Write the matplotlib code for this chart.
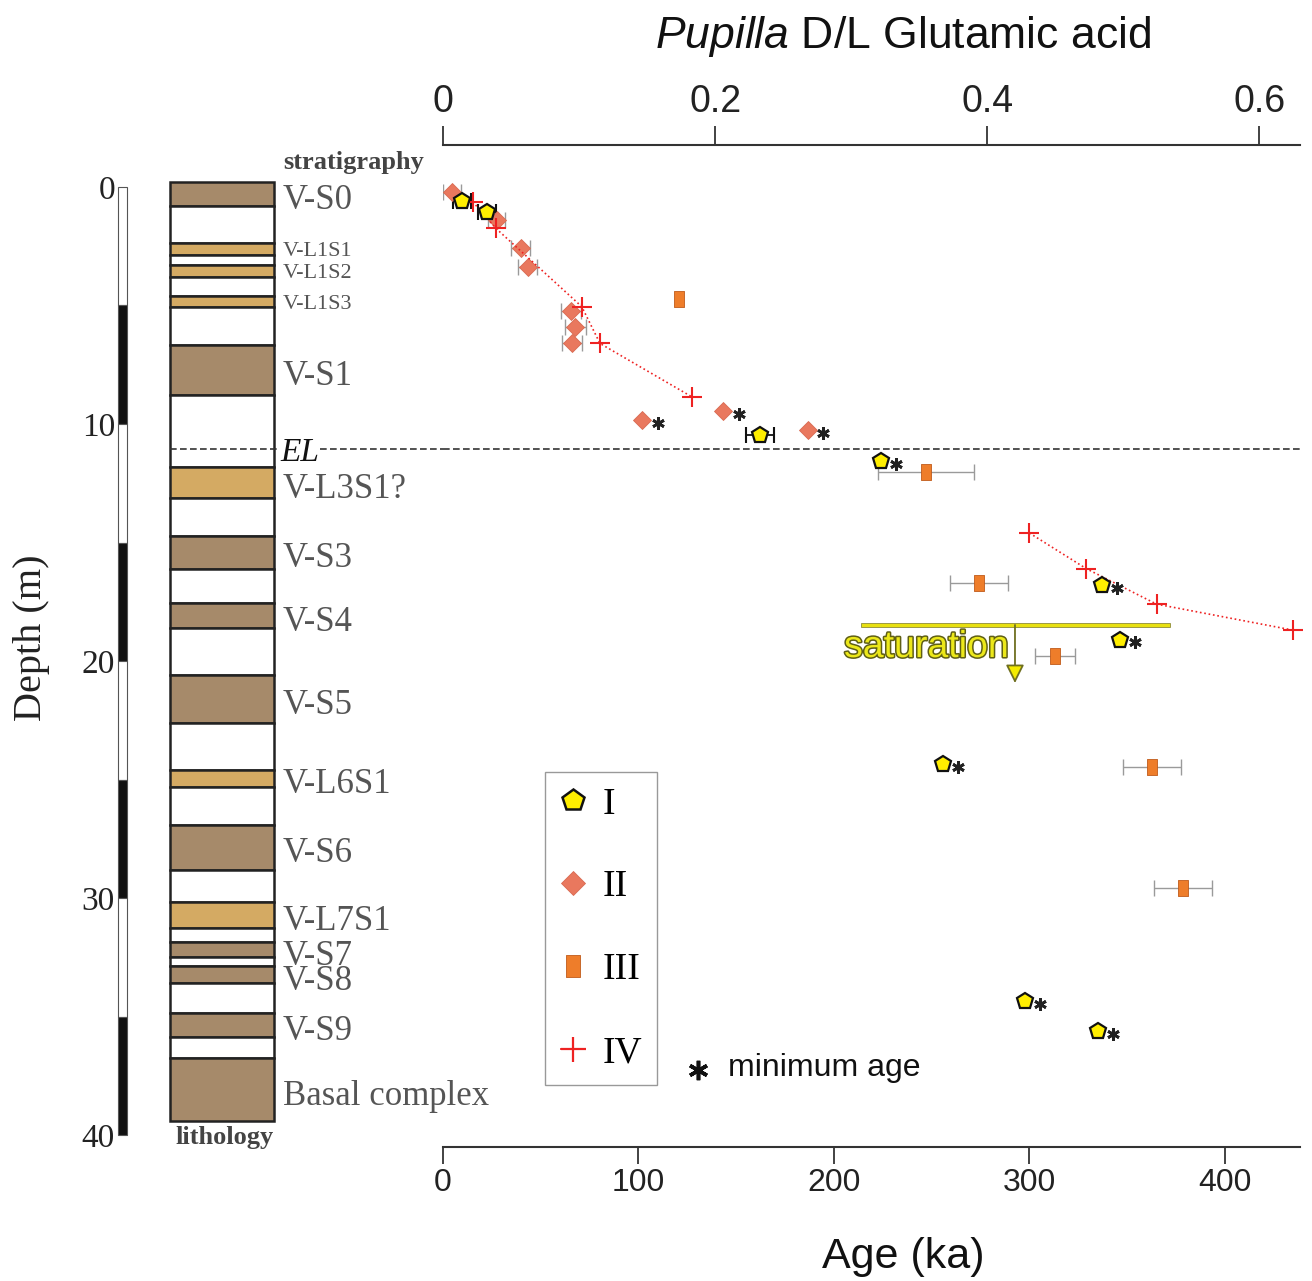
import matplotlib
matplotlib.use("Agg")
import matplotlib.pyplot as plt
import matplotlib.patheffects as pe
from matplotlib.lines import Line2D
from matplotlib.path import Path
from matplotlib.transforms import offset_copy
import numpy as np

# ---- data -----------------------------------------------------------------
# lithology column: layer boundaries (m) and layer type (S soil, L interstadial, W loess)
litho_bounds = [-0.2, 0.8, 2.35, 2.85, 3.3, 3.8, 4.6, 5.05, 6.67, 8.78, 11.8, 13.14,
                14.72, 16.1, 17.56, 18.6, 20.6, 22.6, 24.6, 25.3, 26.9, 28.8, 30.15,
                31.27, 31.85, 32.5, 32.87, 33.6, 34.84, 35.85, 36.76, 39.4]
litho_kind = ["S", "W", "L", "W", "L", "W", "L", "W", "S", "W", "L", "W", "S", "W",
              "S", "W", "S", "W", "L", "W", "S", "W", "L", "W", "S", "W", "S", "W",
              "S", "W", "S"]
strat_names = ["V-S0", "V-L1S1", "V-L1S2", "V-L1S3", "V-S1", "V-L3S1?", "V-S3", "V-S4",
               "V-S5", "V-L6S1", "V-S6", "V-L7S1", "V-S7", "V-S8", "V-S9", "Basal complex"]
small_names = ["V-L1S1", "V-L1S2", "V-L1S3"]
el_depth = 11.05
depth_ticks = [0, 10, 20, 30, 40]

# group I (pentagons)
I_age = [9.7, 22.7, 162.1, 224.0, 336.9, 346.3, 255.6, 297.7, 335.0]
I_depth = [0.6, 1.04, 10.46, 11.56, 16.8, 19.1, 24.36, 34.35, 35.6]
I_err = [4.6, 4.6, 7.0, 0, 0, 0, 0, 0, 0]
I_min = [0, 0, 0, 1, 1, 1, 1, 1, 1]

# group II (diamonds)
II_age = [4.6, 27.5, 39.7, 43.3, 65.5, 67.7, 66.0, 102.0, 143.4, 186.5]
II_depth = [0.2, 1.39, 2.58, 3.36, 5.22, 5.9, 6.57, 9.83, 9.44, 10.25]
II_err = [4.6, 4.3, 5.0, 4.9, 5.3, 5.3, 5.3, 0, 0, 0]
II_min = [0, 0, 0, 0, 0, 0, 0, 1, 1, 1]

# group III (rectangles)
III_age = [120.9, 247.1, 274.0, 313.0, 362.8, 378.7]
III_depth = [4.74, 12.03, 16.7, 19.8, 24.46, 29.56]
III_err = [0, 24.5, 14.8, 10.4, 14.8, 14.8]

# group IV (crosses, two connected runs)
IV_age_a = [15.2, 27.0, 71.0, 80.3, 127.2]
IV_depth_a = [0.62, 1.74, 5.05, 6.6, 8.85]
IV_age_b = [300.0, 329.0, 365.0, 435.0]
IV_depth_b = [14.6, 16.1, 17.6, 18.7]

sat_age = [214.6, 371.0]
sat_depth = 18.48
sat_arrow_age = 292.6
sat_arrow_end = 20.93

age_ticks = [0, 100, 200, 300, 400]
dl_ticks = [0, 0.2, 0.4, 0.6]

# ---- style ----------------------------------------------------------------
plt.rcParams["font.family"] = ["Liberation Sans", "DejaVu Sans"]
plt.rcParams["mathtext.fontset"] = "custom"
plt.rcParams["mathtext.rm"] = "Liberation Sans"
plt.rcParams["mathtext.it"] = "Liberation Sans:italic"
SERIF = "Liberation Serif"

soil_c = "#a68a6a"
inter_c = "#d4aa63"
yellow = "#ffee00"
salmon = "#e9785e"
orange = "#ee7d2a"
red = "#ee2222"
err_gray = "#9a9a9a"

W, H = 1312, 1281
fig = plt.figure(figsize=(W / 100, H / 100), dpi=100)


def px_axes(x0, y0, x1, y1):
    return fig.add_axes([x0 / W, 1 - y1 / H, (x1 - x0) / W, (y1 - y0) / H])


DEPTH_LIM = (40.506, -1.772)

# ---- left panel: scale bar + lithology -----------------------------------
axl = px_axes(0, 145, 443, 1147)
axl.set_xlim(0, 443)
axl.set_ylim(*DEPTH_LIM)
axl.axis("off")

for i, s in enumerate(range(0, 40, 5)):
    axl.bar(123, 5, bottom=s, width=9, color="white" if i % 2 == 0 else "#111111",
            edgecolor="#555555", linewidth=0.8)
for d in depth_ticks:
    axl.text(115, d + 0.15, str(d), ha="right", va="center", fontsize=24, family=SERIF,
             color="#222222")
axl.text(32, 19.0, "Depth (m)", rotation=90, ha="center", va="center", fontsize=29,
         family=SERIF, color="#222222")

colors = {"S": soil_c, "L": inter_c, "W": "white"}
names = iter(strat_names)
for top, bot, kind in zip(litho_bounds[:-1], litho_bounds[1:], litho_kind):
    axl.bar(222.5, bot - top, bottom=top, width=104, color=colors[kind],
            edgecolor="#222222", linewidth=1.8)
    if kind != "W":
        name = next(names)
        small = name in small_names
        axl.text(283, (top + bot) / 2 + (0.12 if small else 0.28), name, ha="left",
                 va="center", fontsize=16 if small else 25, family=SERIF,
                 color="#555555", clip_on=False)

axl.text(283, -1.05, "stratigraphy", ha="left", va="center", fontsize=19,
         fontweight="bold", family=SERIF, color="#444444")
axl.text(225, 40.1, "lithology", ha="center", va="center", fontsize=19,
         fontweight="bold", family=SERIF, color="#444444")

axl.plot([170, 443], [el_depth, el_depth], ls=(0, (4, 2)), color="#333333", lw=1.2)
axl.text(280, el_depth + 0.15, "EL", ha="left", va="center", fontsize=24, style="italic",
         family=SERIF, color="#111111",
         bbox=dict(facecolor="white", edgecolor="none", pad=0))

# ---- main panel -----------------------------------------------------------
ax = px_axes(443, 145, 1300, 1147)
ax.patch.set_visible(False)
ax.set_xlim(0, 438.4)
ax.set_ylim(*DEPTH_LIM)
for s in ["top", "left", "right"]:
    ax.spines[s].set_visible(False)
ax.spines["bottom"].set_linewidth(1.5)
ax.spines["bottom"].set_color("#333333")
ax.set_yticks([])
ax.set_xticks(age_ticks)
ax.tick_params(axis="x", direction="out", length=12, width=1.2, labelsize=23, pad=3,
               colors="#222222")

ax2 = ax.twiny()
ax2.patch.set_visible(False)
ax2.set_xlim(0, 0.630)
ax2.set_xticks(dl_ticks)
ax2.set_xticklabels(["0", "0.2", "0.4", "0.6"])
for s in ["bottom", "left", "right"]:
    ax2.spines[s].set_visible(False)
ax2.spines["top"].set_linewidth(1.5)
ax2.spines["top"].set_color("#333333")
ax2.tick_params(axis="x", direction="out", length=14, width=1.2, labelsize=27, pad=4,
                colors="#222222")

ax.axhline(el_depth, ls=(0, (4, 2)), color="#333333", lw=1.2, zorder=1)

rect = Path([(-0.3, -0.5), (0.3, -0.5), (0.3, 0.5), (-0.3, 0.5), (-0.3, -0.5)],
            [Path.MOVETO, Path.LINETO, Path.LINETO, Path.LINETO, Path.CLOSEPOLY])


def with_err(age, depth, err):
    a, d, e = np.array(age), np.array(depth), np.array(err)
    m = e > 0
    return a[m], d[m], e[m]


a, d, e = with_err(II_age, II_depth, II_err)
ax.errorbar(a, d, xerr=e, fmt="none", ecolor=err_gray, elinewidth=1.0, capsize=6,
            capthick=1.0, zorder=2)
a, d, e = with_err(III_age, III_depth, III_err)
ax.errorbar(a, d, xerr=e, fmt="none", ecolor=err_gray, elinewidth=1.0, capsize=6,
            capthick=1.0, zorder=2)
a, d, e = with_err(I_age, I_depth, I_err)
ax.errorbar(a, d, xerr=e, fmt="none", ecolor="#111111", elinewidth=1.3, capsize=6,
            capthick=1.5, zorder=2)

ax.plot(II_age, II_depth, ls="none", marker="D", ms=9.5, mfc=salmon, mec="#d86a52",
        mew=0.6, zorder=3)
ax.plot(III_age, III_depth, ls="none", marker=rect, ms=11, mfc=orange, mec="#c05a1a",
        mew=0.6, zorder=3)
for ia, idp in [(IV_age_a, IV_depth_a), (IV_age_b, IV_depth_b)]:
    ax.plot(ia, idp, ls=":", lw=1.2, color=red, marker="+", ms=14, mew=1.5, zorder=4,
            clip_on=False)
ax.plot(I_age, I_depth, ls="none", marker="p", ms=12, mfc=yellow, mec="#111111",
        mew=1.6, zorder=5)

# minimum-age stars
star_tr = offset_copy(ax.transData, fig=fig, x=11, y=-2, units="points")
for age, depth, flag in [(I_age, I_depth, I_min), (II_age, II_depth, II_min)]:
    m = np.array(flag) == 1
    ax.plot(np.array(age)[m], np.array(depth)[m], ls="none", marker=(6, 2, 0), ms=9,
            mew=2.0, color="#222222", transform=star_tr, zorder=5)

# saturation marker
ax.plot(sat_age, [sat_depth, sat_depth], color="#e8e010", lw=2.2, zorder=3,
        path_effects=[pe.Stroke(linewidth=3.4, foreground="#8c8a2a"), pe.Normal()])
ax.annotate("", xy=(sat_arrow_age, sat_arrow_end), xytext=(sat_arrow_age, sat_depth),
            arrowprops=dict(arrowstyle="-|>,head_length=0.8,head_width=0.4",
                            fc="#f4ec00", ec="#6f6f20", lw=1.3, mutation_scale=14,
                            shrinkA=0, shrinkB=0), zorder=3)
ax.text(247.3, 19.41, "saturation", ha="center", va="center", fontsize=27,
        color="#ece81a", zorder=4,
        path_effects=[pe.withStroke(linewidth=2.2, foreground="#5f5f15")])

# legend
handles = [
    Line2D([], [], ls="none", marker="p", ms=16, mfc=yellow, mec="#111111", mew=1.8),
    Line2D([], [], ls="none", marker="D", ms=12.5, mfc=salmon, mec="#d86a52", mew=0.6),
    Line2D([], [], ls="none", marker=rect, ms=16, mfc=orange, mec="#c05a1a", mew=0.6),
    Line2D([], [], ls=":", lw=1.2, color=red, marker="+", ms=18, mew=1.6),
]
leg = ax.legend(handles, ["I", "II", "III", "IV"], loc="upper left",
                bbox_to_anchor=(545 / W, 1 - 772 / H), bbox_transform=fig.transFigure,
                borderaxespad=0, frameon=True, fancybox=False, edgecolor="#999999",
                framealpha=1, prop={"family": SERIF, "size": 27}, labelspacing=1.29,
                handlelength=0.7, handletextpad=0.43, borderpad=0.4)
leg.get_frame().set_linewidth(1.0)

ax.plot([698 / W], [1 - 1070 / H], marker=(6, 2, 0), ms=14, mew=2.6, color="#111111",
        transform=fig.transFigure, clip_on=False)
fig.text(728 / W, 1 - 1076 / H, "minimum age", ha="left", va="baseline", fontsize=23,
         color="#111111")

fig.text(903 / W, 1 - 48 / H, r"$\it{Pupilla}$ D/L Glutamic acid", ha="center",
         va="baseline", fontsize=32, color="#111111")
fig.text(903 / W, 1 - 1268 / H, "Age (ka)", ha="center", va="baseline", fontsize=31,
         color="#111111")

fig.savefig("out.png", dpi=100)
